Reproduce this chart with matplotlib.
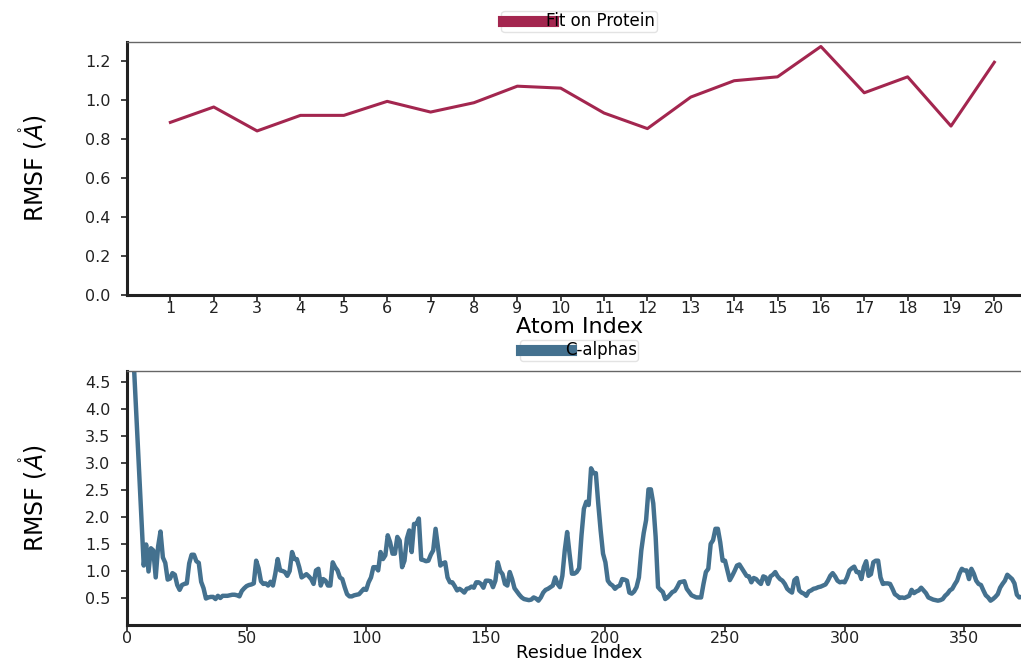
import numpy as np
import matplotlib
matplotlib.use("Agg")
import matplotlib.pyplot as plt

# ---- data ----
atom_index = list(range(1, 21))
atom_rmsf = [0.887, 0.966, 0.843, 0.923, 0.923, 0.995, 0.940, 0.988, 1.073, 1.063,
             0.935, 0.855, 1.017, 1.101, 1.121, 1.277, 1.039, 1.121, 0.868, 1.196]

ca_rmsf = [
    6.6, 5.6, 4.7, 3.8, 2.9, 2.0, 1.10, 1.49, 0.99, 1.42,
    1.38, 0.88, 1.45, 1.73, 1.25, 1.15, 0.84, 0.86, 0.96, 0.93,
    0.74, 0.65, 0.74, 0.76, 0.77, 1.14, 1.30, 1.30, 1.18, 1.15,
    0.80, 0.68, 0.49, 0.51, 0.52, 0.52, 0.48, 0.54, 0.50, 0.54,
    0.54, 0.54, 0.55, 0.56, 0.56, 0.55, 0.53, 0.63, 0.68, 0.72,
    0.74, 0.75, 0.77, 1.19, 1.05, 0.81, 0.76, 0.77, 0.73, 0.80,
    0.73, 0.95, 1.22, 1.01, 1.00, 0.98, 0.91, 1.00, 1.35, 1.22,
    1.22, 1.07, 0.88, 0.91, 0.94, 0.90, 0.85, 0.76, 1.01, 1.04,
    0.73, 0.85, 0.82, 0.73, 0.73, 1.16, 1.07, 1.01, 0.88, 0.85,
    0.70, 0.57, 0.53, 0.53, 0.55, 0.56, 0.57, 0.62, 0.67, 0.65,
    0.79, 0.88, 1.07, 1.07, 1.01, 1.35, 1.22, 1.29, 1.66, 1.53,
    1.32, 1.32, 1.63, 1.56, 1.07, 1.19, 1.60, 1.75, 1.35, 1.87,
    1.87, 1.97, 1.21, 1.20, 1.18, 1.19, 1.30, 1.38, 1.78, 1.44,
    1.10, 1.14, 1.16, 0.88, 0.79, 0.79, 0.72, 0.64, 0.67, 0.64,
    0.60, 0.67, 0.68, 0.71, 0.69, 0.79, 0.79, 0.76, 0.69, 0.82,
    0.82, 0.81, 0.70, 0.82, 1.16, 1.00, 0.94, 0.76, 0.73, 0.98,
    0.85, 0.68, 0.62, 0.56, 0.51, 0.48, 0.47, 0.46, 0.47, 0.51,
    0.49, 0.45, 0.51, 0.60, 0.65, 0.67, 0.70, 0.73, 0.88, 0.76,
    0.70, 0.91, 1.38, 1.72, 1.32, 0.95, 0.95, 0.98, 1.05, 1.66,
    2.15, 2.28, 2.22, 2.90, 2.81, 2.81, 2.25, 1.75, 1.32, 1.16,
    0.82, 0.76, 0.73, 0.67, 0.71, 0.73, 0.85, 0.84, 0.82, 0.60,
    0.58, 0.62, 0.70, 0.88, 1.38, 1.70, 1.94, 2.51, 2.51, 2.25,
    1.63, 0.70, 0.65, 0.61, 0.48, 0.51, 0.56, 0.61, 0.63, 0.70,
    0.79, 0.80, 0.81, 0.67, 0.61, 0.55, 0.53, 0.51, 0.51, 0.51,
    0.76, 0.98, 1.04, 1.50, 1.57, 1.78, 1.78, 1.53, 1.19, 1.19,
    1.01, 0.83, 0.91, 1.00, 1.10, 1.12, 1.05, 0.98, 0.91, 0.90,
    0.79, 0.87, 0.85, 0.80, 0.76, 0.90, 0.88, 0.76, 0.90, 0.93,
    0.98, 0.90, 0.85, 0.82, 0.76, 0.67, 0.63, 0.60, 0.83, 0.87,
    0.64, 0.60, 0.58, 0.54, 0.62, 0.64, 0.67, 0.68, 0.70, 0.71,
    0.73, 0.75, 0.82, 0.91, 0.96, 0.90, 0.82, 0.79, 0.80, 0.79,
    0.88, 1.01, 1.05, 1.08, 0.98, 0.98, 0.85, 1.07, 1.18, 0.91,
    0.94, 1.16, 1.19, 1.19, 0.88, 0.76, 0.77, 0.77, 0.76, 0.67,
    0.57, 0.54, 0.50, 0.51, 0.50, 0.52, 0.54, 0.65, 0.59, 0.62,
    0.64, 0.69, 0.64, 0.59, 0.51, 0.49, 0.47, 0.46, 0.45, 0.46,
    0.48, 0.54, 0.58, 0.64, 0.67, 0.75, 0.82, 0.95, 1.04, 1.01,
    1.01, 0.85, 1.04, 0.95, 0.82, 0.76, 0.74, 0.64, 0.55, 0.51,
    0.45, 0.48, 0.52, 0.57, 0.69, 0.76, 0.82, 0.93, 0.89, 0.85,
    0.77, 0.56, 0.51, 0.52, 0.54, 0.50,
]
residue_index = list(range(1, len(ca_rmsf) + 1))

top_yticks = [0.0, 0.2, 0.4, 0.6, 0.8, 1.0, 1.2]
bottom_yticks = [0.5, 1.0, 1.5, 2.0, 2.5, 3.0, 3.5, 4.0, 4.5]
bottom_xticks = [0, 50, 100, 150, 200, 250, 300, 350]

top_color = "#a3264f"
bottom_color = "#44718f"
ylabel = r"RMSF ($\mathring{A}$)"

# ---- figure ----
W, H = 1021, 658
fig = plt.figure(figsize=(W / 100, H / 100), dpi=100)

def fx(px):
    return px / W

def fy(py):
    return 1 - py / H

ax1 = fig.add_axes([fx(127), fy(295), 1 - fx(127) + 0.01, fy(42) - fy(295)])
ax2 = fig.add_axes([fx(127), fy(625), 1 - fx(127) + 0.01, fy(371) - fy(625)])

ax1.plot(atom_index, atom_rmsf, color=top_color, lw=2.2, label="Fit on Protein")
ax1.set_xlim(0, 20.85)
ax1.set_ylim(0, 1.3)
ax1.set_xticks(atom_index)
ax1.set_yticks(top_yticks)
ax1.set_yticklabels([f"{v:.1f}" for v in top_yticks])
ax1.set_xlabel("Atom Index", fontsize=16, labelpad=0.5)

ax2.plot(residue_index, ca_rmsf, color=bottom_color, lw=3.2, label="C-alphas")
ax2.set_xlim(0, 378)
ax2.set_ylim(0, 4.7)
ax2.set_xticks(bottom_xticks)
ax2.set_yticks(bottom_yticks)
ax2.set_yticklabels([f"{v:.1f}" for v in bottom_yticks])
ax2.set_xlabel("Residue Index", fontsize=13, labelpad=-1.5)

for ax in (ax1, ax2):
    ax.set_ylabel(ylabel, fontsize=17, labelpad=26)
    ax.spines["left"].set_linewidth(2.2)
    ax.spines["bottom"].set_linewidth(2.2)
    ax.spines["left"].set_color("#222222")
    ax.spines["bottom"].set_color("#222222")
    ax.spines["top"].set_linewidth(1.0)
    ax.spines["top"].set_color("#666666")
    ax.spines["right"].set_visible(False)
    ax.tick_params(axis="both", labelsize=11.5, length=4, width=1.2, colors="#222222",
                   direction="out")
    ax.tick_params(axis="x", pad=0.5)
    ax.tick_params(axis="y", pad=8)
    leg = ax.legend(loc="lower center", bbox_to_anchor=(0.5, 1.0), frameon=True,
                    fontsize=12, handlelength=3.0, handletextpad=-0.4,
                    borderpad=0.1, borderaxespad=0.6, fancybox=True)
    leg.get_frame().set_edgecolor("#dddddd")
    leg.get_frame().set_linewidth(1.0)
    for line in leg.get_lines():
        line.set_linewidth(8)

fig.savefig("out.png", dpi=100)
